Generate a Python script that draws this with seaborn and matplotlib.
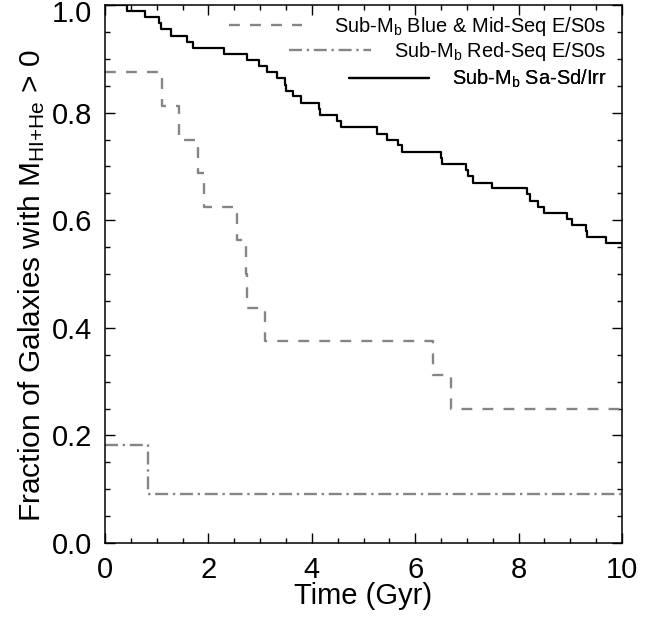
import matplotlib
matplotlib.use('Agg')
import matplotlib.pyplot as plt
import matplotlib.transforms as mtransforms
import seaborn as sns
import pandas as pd
from matplotlib.ticker import MultipleLocator

# ---- data ----
solid_t = [0.0, 0.42, 0.77, 1.05, 1.08, 1.28, 1.59, 1.70, 2.30, 2.75, 2.97, 3.13,
           3.32, 3.48, 3.50, 3.64, 3.80, 4.13, 4.15, 4.49, 4.56, 5.26, 5.46, 5.67,
           5.74, 6.49, 6.51, 6.98, 7.03, 7.12, 7.48, 8.16, 8.22, 8.37, 8.49, 8.93,
           9.04, 9.30, 9.32, 9.70, 10.0]
solid_v = [1.000, 0.989, 0.977, 0.966, 0.955, 0.943, 0.932, 0.920, 0.909, 0.898,
           0.886, 0.875, 0.864, 0.852, 0.841, 0.830, 0.818, 0.807, 0.795, 0.784,
           0.773, 0.761, 0.750, 0.739, 0.727, 0.716, 0.705, 0.693, 0.682, 0.670,
           0.659, 0.648, 0.636, 0.625, 0.614, 0.602, 0.591, 0.580, 0.568, 0.557,
           0.557]

blue_t = [0.0, 1.10, 1.44, 1.80, 1.92, 2.55, 2.72, 2.75, 3.09, 6.35, 6.70, 10.0]
blue_v = [0.875, 0.8125, 0.75, 0.6875, 0.625, 0.5625, 0.5, 0.4375, 0.375,
          0.3125, 0.25, 0.25]

red_t = [0.0, 0.84, 10.0]
red_v = [0.1818, 0.0909, 0.0909]

labels = ['Sub-M$_\\mathrm{b}$ Blue & Mid-Seq E/S0s',
          'Sub-M$_\\mathrm{b}$ Red-Seq E/S0s',
          'Sub-M$_\\mathrm{b}$ Sa-Sd/Irr']

xticks = [0, 2, 4, 6, 8, 10]
xticklabels = ['0', '2', '4', '6', '8', '10']
yticks = [0.0, 0.2, 0.4, 0.6, 0.8, 1.0]
yticklabels = ['0.0', '0.2', '0.4', '0.6', '0.8', '1.0']

xlabel = 'Time (Gyr)'
ylabel = 'Fraction of Galaxies with M$_\\mathrm{HI{+}He}$ > 0'

# ---- style ----
sns.set_style('ticks')
plt.rcParams['font.family'] = ['Liberation Sans', 'DejaVu Sans']
plt.rcParams['mathtext.fontset'] = 'custom'
plt.rcParams['mathtext.rm'] = 'Liberation Sans'
plt.rcParams['mathtext.it'] = 'Liberation Sans:italic'
plt.rcParams['mathtext.bf'] = 'Liberation Sans:bold'
for k in ['text.color', 'axes.labelcolor', 'xtick.color', 'ytick.color',
          'axes.edgecolor']:
    plt.rcParams[k] = 'black'

gray = '#858585'

fig = plt.figure(figsize=(6.58, 6.17), dpi=100)
ax = fig.add_axes([105 / 658, 74 / 617, 517 / 658, 538 / 617])

df_blue = pd.DataFrame({'t': blue_t, 'f': blue_v})
df_red = pd.DataFrame({'t': red_t, 'f': red_v})
df_sol = pd.DataFrame({'t': solid_t, 'f': solid_v})

sns.lineplot(data=df_blue, x='t', y='f', ax=ax, drawstyle='steps-post',
             color=gray, linewidth=1.7, linestyle=(0, (4.6, 4.3)),
             label=labels[0], estimator=None)
sns.lineplot(data=df_red, x='t', y='f', ax=ax, drawstyle='steps-post',
             color=gray, linewidth=1.7, linestyle=(0, (5.5, 2.0, 1.0, 2.0)),
             label=labels[1], estimator=None)
sns.lineplot(data=df_sol, x='t', y='f', ax=ax, drawstyle='steps-post',
             color='black', linewidth=1.6, label=labels[2], estimator=None)

ax.set_xlim(0, 10)
ax.set_ylim(0, 1.0)
ax.xaxis.set_minor_locator(MultipleLocator(0.5))
ax.yaxis.set_minor_locator(MultipleLocator(0.05))
ax.set_xticks(xticks)
ax.set_xticklabels(xticklabels)
ax.set_yticks(yticks)
ax.set_yticklabels(yticklabels)

ax.tick_params(which='both', direction='in', top=True, right=True,
               color='black', width=1.0, labelcolor='black')
ax.tick_params(which='major', length=7.2, labelsize=21, pad=9)
ax.tick_params(which='minor', length=3.6)
for s in ax.spines.values():
    s.set_color('black')
    s.set_linewidth(1.1)

# keep the top tick label inside the figure, as in the reference
top_lab = ax.get_yticklabels()[-1]
top_lab.set_transform(top_lab.get_transform() +
                      mtransforms.ScaledTranslation(0, -6 / 100, fig.dpi_scale_trans))

ax.set_xlabel(xlabel, fontsize=21, labelpad=-1, color='black')
ax.set_ylabel(ylabel, fontsize=21.5, color='black')
ax.yaxis.set_label_coords(-0.112, 0.478)

# ---- legend: right-aligned text, sample line on the left ----
handles, labs = ax.get_legend_handles_labels()
ax.get_legend().remove()
rows_y = [0.960, 0.913, 0.863]
hlen = [3.65, 4.1, 4.0]
hpad = [1.6, 1.15, 1.15]
for h, l, y, hl, hp in zip(handles, labs, rows_y, hlen, hpad):
    leg = ax.legend([h], [l], loc='center right', bbox_to_anchor=(0.97, y),
                    bbox_transform=ax.transAxes, frameon=False, fontsize=14.4,
                    handlelength=hl, handletextpad=hp, borderpad=0,
                    borderaxespad=0, labelcolor='black')
    ax.add_artist(leg)

fig.savefig('out.png', dpi=100)
